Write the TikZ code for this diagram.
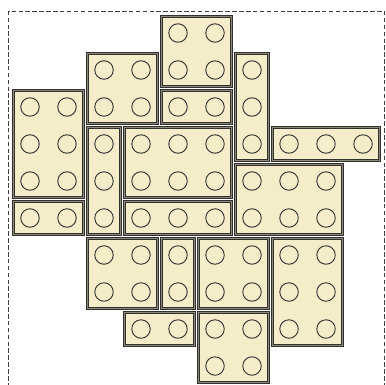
\documentclass[tikz,border=0pt]{standalone}
\usetikzlibrary{arrows}
\definecolor{brickfill}{HTML}{F5ECC9}
\definecolor{brickband}{HTML}{8E8874}
\definecolor{brickedge}{HTML}{303030}

\tikzset{
  brickbox/.style={fill=brickfill, draw=brickedge, line width=0.75pt, double=brickband, double distance=0.9pt},
  stud/.style={draw=brickedge, line width=0.7pt},
  frame/.style={draw=black!75, line width=0.6pt, dash pattern=on 3.5pt off 1.8pt}
}

\begin{document}
\begin{tikzpicture}[y=-1cm]
\useasboundingbox (-0.311,-0.392) rectangle (10.121,10.013);
\draw[frame] (-0.08,10.08) -- (-0.08,-0.08) -- (10.08,-0.08) -- (10.08,10.08);

% bricks: column/row/width/height
\foreach \c/\r/\w/\h in {4/0/2/2, 2/1/2/2, 6/1/1/3, 0/2/2/3, 4/2/2/1, 2/3/1/3,
                         3/3/3/2, 7/3/3/1, 6/4/3/2, 0/5/2/1, 3/5/3/1, 2/6/2/2,
                         4/6/1/2, 5/6/2/2, 7/6/2/3, 3/8/2/1, 5/8/2/2}
{
  \draw[brickbox] (\c+0.045,\r+0.045) rectangle (\c+\w-0.045,\r+\h-0.045);
  \foreach \i in {1,...,\w}
    \foreach \j in {1,...,\h}
      \draw[stud] (\c+\i-0.5,\r+\j-0.5) circle (0.25);
}
\end{tikzpicture}
\end{document}
